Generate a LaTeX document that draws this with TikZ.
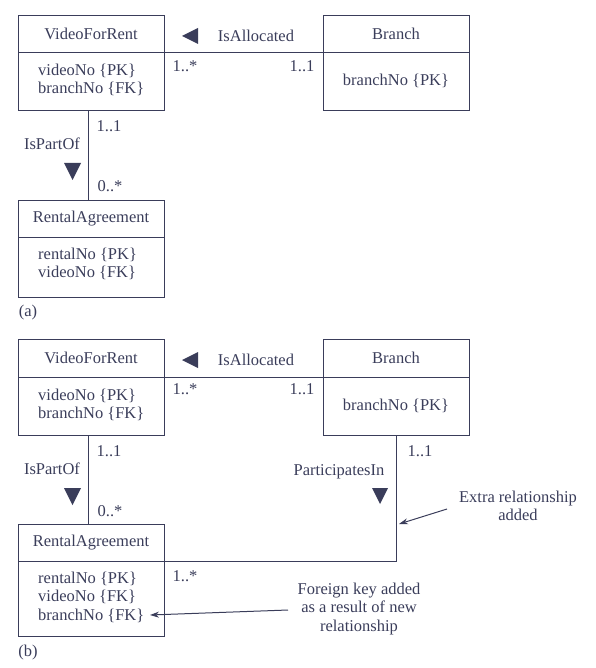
\documentclass[tikz,border=0pt]{standalone}
\usepackage{fontspec}
\setmainfont{Liberation Serif}
\usetikzlibrary{arrows.meta,calc}
\definecolor{ink}{HTML}{3A3D5A}
\begin{document}
\begin{tikzpicture}[x=1pt,y=-1pt,
  every node/.style={text=ink,font=\fontsize{16.5}{18.5}\selectfont},
  boxpart/.style={draw=ink,line width=0.8pt,minimum width=146pt,inner sep=0pt},
  attr/.style={anchor=west,align=left,inner sep=0pt},
  lbl/.style={inner sep=0pt},
  conn/.style={draw=ink,line width=0.8pt},
  tri/.style={fill=ink},
  note/.style={draw=ink,line width=1pt,-{Stealth[length=9pt,width=6pt]}}]
\useasboundingbox (0,0) rectangle (595,668);
% ---------- (a) ----------
\node[boxpart,minimum height=37pt] (vT) at (91,33.5) {VideoForRent};
\node[boxpart,minimum height=58pt] (vA) at (91,81) {};
\node[attr] (vAt) at (38,80) {videoNo \{PK\}\\branchNo \{FK\}};
\node[boxpart,minimum height=37pt] (bT) at (396,33.5) {Branch};
\node[boxpart,minimum height=58pt] (bA) at (396,81) {};
\node[lbl] (bAt) at (396,81) {branchNo \{PK\}};
\node[boxpart,minimum height=37pt] (rT) at (91,218.5) {RentalAgreement};
\node[boxpart,minimum height=60pt] (rA) at (91,267) {};
\node[attr] (rAt) at (38,264) {rentalNo \{PK\}\\videoNo \{FK\}};
\draw[conn] (vT.south east) -- (bT.south west);
\draw[conn] ([xshift=-3pt]vA.south) -- ([xshift=-3pt]rT.north);
\fill[tri] (182,36) -- (198,28) -- (198,44) -- cycle;
\node[lbl] (isA) at (256,36) {IsAllocated};
\node[lbl] (m1) at (185,66) {1..*};
\node[lbl] (m2) at (302,66) {1..1};
\node[lbl] (m3) at (109,126) {1..1};
\node[lbl] (isP) at (52,144) {IsPartOf};
\fill[tri] (64,163) -- (81,163) -- (72.5,180) -- cycle;
\node[lbl] (m4) at (110,186) {0..*};
\node[lbl] (capa) at (28,313) {(a)};
% ---------- (b) ----------
\node[boxpart,minimum height=38pt] (vT2) at (91,358) {VideoForRent};
\node[boxpart,minimum height=58pt] (vA2) at (91,406) {};
\node[attr] (vAt2) at (38,405) {videoNo \{PK\}\\branchNo \{FK\}};
\node[boxpart,minimum height=38pt] (bT2) at (396,358) {Branch};
\node[boxpart,minimum height=58pt] (bA2) at (396,406) {};
\node[lbl] (bAt2) at (396,406) {branchNo \{PK\}};
\node[boxpart,minimum height=37pt] (rT2) at (91,542.5) {RentalAgreement};
\node[boxpart,minimum height=75pt] (rA2) at (91,598.5) {};
\node[attr] (rAt2) at (38,597) {rentalNo \{PK\}\\videoNo \{FK\}\\branchNo \{FK\}};
\draw[conn] (vT2.south east) -- (bT2.south west);
\draw[conn] ([xshift=-3pt]vA2.south) -- ([xshift=-3pt]rT2.north);
\draw[conn] (bA2.south) |- (rT2.south east);
\fill[tri] (182,360) -- (198,352) -- (198,368) -- cycle;
\node[lbl] (isA2) at (256,360) {IsAllocated};
\node[lbl] (n1) at (185,389) {1..*};
\node[lbl] (n2) at (302,389) {1..1};
\node[lbl] (n3) at (109,451) {1..1};
\node[lbl] (isP2) at (52,469) {IsPartOf};
\fill[tri] (64,488) -- (81,488) -- (72.5,505) -- cycle;
\node[lbl] (n4) at (110,511) {0..*};
\node[lbl] (n5) at (185,576) {1..*};
\node[lbl] (n6) at (420,451) {1..1};
\node[lbl] (pIn) at (339,472) {ParticipatesIn};
\fill[tri] (372,488) -- (388,488) -- (380,504) -- cycle;
\node[lbl,align=center] (ex) at (518,506) {Extra relationship\\added};
\coordinate (exE) at (399,524);
\draw[note] (447,509) -- (exE);
\node[lbl,align=center] (fk) at (359,609) {Foreign key added\\as a result of new\\relationship};
\coordinate (fkE) at (150,615);
\draw[note] (288,610) -- (fkE);
\node[lbl] (capb) at (28,653) {(b)};
\end{tikzpicture}
\end{document}
